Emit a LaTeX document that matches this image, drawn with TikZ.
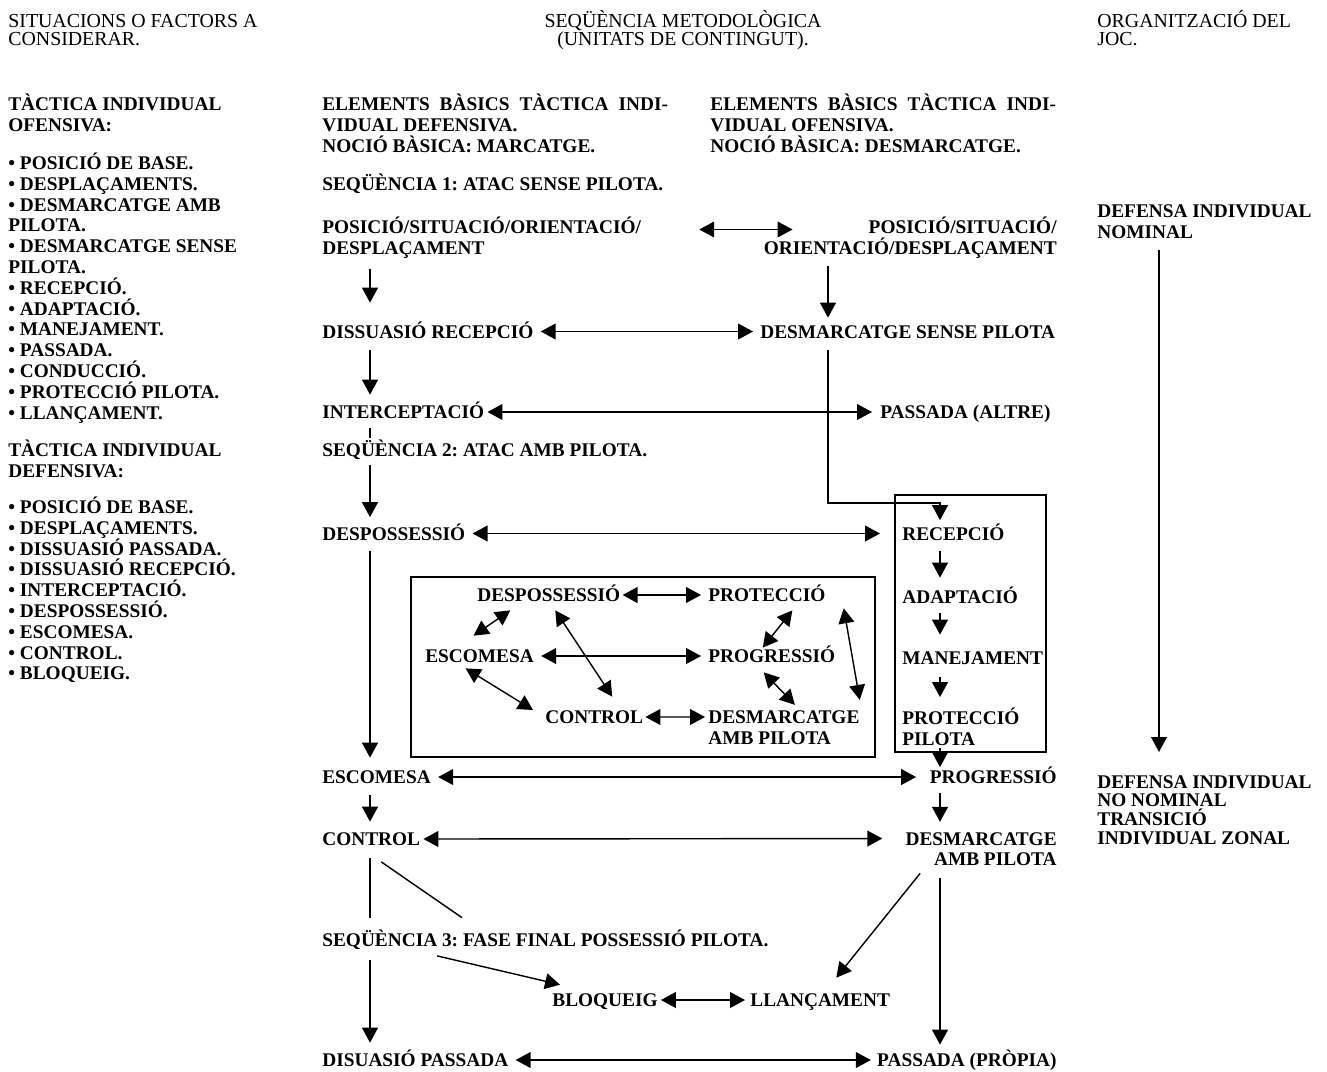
\documentclass[tikz,border=0pt]{standalone}
\usepackage{fontspec}
\setmainfont{Liberation Serif}
\usetikzlibrary{arrows.meta,calc}
\tikzset{>={Triangle[length=8.5pt,width=9pt]}}
\tikzset{
  box/.style = {anchor=base west, inner sep=0pt, text height=0.26cm, text depth=0pt, font=\bfseries},
  boxr/.style = {box, anchor=base east},
  lines/.style = {anchor=base west, inner sep=0pt, align=left, font=\bfseries},
  linesr/.style = {lines, anchor=base east, align=right},
  title/.style = {anchor=base west, inner sep=0pt, align=left, font={\fontsize{11.3}{10.2}\selectfont}},
  link/.style = {thick, <->, shorten <=0.14cm, shorten >=0.14cm},
  flow/.style = {thick, ->}
}
\begin{document}
\frenchspacing
\fontsize{11}{11.84}\selectfont
\begin{tikzpicture}[x=0.02cm, y=-0.02cm]
  \useasboundingbox (0,0) rectangle (1327,1071);
  % column guides
  \coordinate (colL) at (370,0);
  \coordinate (colM) at (828,0);
  \coordinate (colR) at (940,0);
  \coordinate (colO) at (1159,0);
  \coordinate (bend) at (940,503);
  % headings
  \node[title] (sitH) at (8,45.5) {SITUACIONS O FACTORS A\\CONSIDERAR.};
  \node[title, anchor=base, align=center] (seqH) at (683,45.5) {SEQÜÈNCIA METODOLÒGICA\\(UNITATS DE CONTINGUT).};
  \node[title] (orgH) at (1097,45.5) {ORGANITZACIÓ DEL\\JOC.};
  % factors
  \node[lines] (offH) at (8,131.3) {TÀCTICA INDIVIDUAL\\OFENSIVA:};
  \node[lines] (offL) at (8,419.1) {• POSICIÓ DE BASE.\\• DESPLAÇAMENTS.\\• DESMARCATGE AMB\\PILOTA.\\• DESMARCATGE SENSE\\PILOTA.\\• RECEPCIÓ.\\• ADAPTACIÓ.\\• MANEJAMENT.\\• PASSADA.\\• CONDUCCIÓ.\\• PROTECCIÓ PILOTA.\\• LLANÇAMENT.};
  \node[lines] (defH) at (8,477.3) {TÀCTICA INDIVIDUAL\\DEFENSIVA:};
  \node[lines] (defL) at (8,679.9) {• POSICIÓ DE BASE.\\• DESPLAÇAMENTS.\\• DISSUASIÓ PASSADA.\\• DISSUASIÓ RECEPCIÓ.\\• INTERCEPTACIÓ.\\• DESPOSSESSIÓ.\\• ESCOMESA.\\• CONTROL.\\• BLOQUEIG.};
  % sequence
  \node[lines] (elemD) at (322,152.1) {ELEMENTS\hspace{0.2cm}BÀSICS\hspace{0.2cm}TÀCTICA\hspace{0.2cm}INDI-\\VIDUAL DEFENSIVA.\\NOCIÓ BÀSICA: MARCATGE.};
  \node[lines] (elemO) at (710,152.1) {ELEMENTS\hspace{0.2cm}BÀSICS\hspace{0.2cm}TÀCTICA\hspace{0.2cm}INDI-\\VIDUAL OFENSIVA.\\NOCIÓ BÀSICA: DESMARCATGE.};
  \node[box] (seq1) at (322,191) {SEQÜÈNCIA 1: ATAC SENSE PILOTA.};
  \node[lines] (posL) at (322,254.5) {POSICIÓ/SITUACIÓ/ORIENTACIÓ/\\DESPLAÇAMENT};
  \node[linesr] (posR) at (1057,254.5) {POSICIÓ/SITUACIÓ/\\ORIENTACIÓ/DESPLAÇAMENT};
  \node[box] (dissR) at (322,338) {DISSUASIÓ RECEPCIÓ};
  \node[box] (desmS) at (760,338) {DESMARCATGE SENSE PILOTA};
  \node[box] (interc) at (322,418.5) {INTERCEPTACIÓ};
  \node[box] (passA) at (880,418.5) {PASSADA (ALTRE)};
  \node[box] (seq2) at (322,456.5) {SEQÜÈNCIA 2: ATAC AMB PILOTA.};
  \node[box] (despos) at (322,540) {DESPOSSESSIÓ};
  \node[box] (recep) at (902,540) {RECEPCIÓ};
  \node[box] (adapt) at (902,603.5) {ADAPTACIÓ};
  \node[box] (manej) at (902,664.5) {MANEJAMENT};
  \node[lines] (protP) at (902,745.3) {PROTECCIÓ\\PILOTA};
  \node[box] (escom) at (322,783.5) {ESCOMESA};
  \node[boxr] (progr) at (1057,783.5) {PROGRESSIÓ};
  \node[box] (control) at (322,845.5) {CONTROL};
  \node[linesr] (desmA) at (1057,865.8) {DESMARCATGE\\AMB PILOTA};
  \node[box] (seq3) at (322,946.5) {SEQÜÈNCIA 3: FASE FINAL POSSESSIÓ PILOTA.};
  \node[box] (bloq) at (552,1006.5) {BLOQUEIG};
  \node[box] (llanc) at (750,1006.5) {LLANÇAMENT};
  \node[box] (disP) at (322,1066.5) {DISUASIÓ PASSADA};
  \node[boxr] (passP) at (1057,1066.5) {PASSADA (PRÒPIA)};
  % inner frame
  \draw[thick] (411,577) rectangle (875,757);
  \draw[thick] (895,495) rectangle (1046,752);
  \node[box] (desposI) at (477,601.5) {DESPOSSESSIÓ};
  \node[box] (protI) at (708,601.5) {PROTECCIÓ};
  \node[box] (escomI) at (425,662.5) {ESCOMESA};
  \node[box] (progI) at (708,662.5) {PROGRESSIÓ};
  \node[box] (controlI) at (545,723.5) {CONTROL};
  \node[lines] (desmI) at (708,744.3) {DESMARCATGE\\AMB PILOTA};
  % game organisation
  \node[lines] (defNom) at (1097,238.3) {DEFENSA INDIVIDUAL\\NOMINAL};
  \node[lines, font={\fontsize{11}{10.6}\selectfont\bfseries}] (defNoNom) at (1097,844) {DEFENSA INDIVIDUAL\\NO NOMINAL\\TRANSICIÓ\\INDIVIDUAL ZONAL};
  % horizontal links
  \draw[thick,<->] ($(posL.base east)+(58,-25)$) -- ($(posR.base west)+(29,-25)$);
  \draw[link] (dissR.east) -- (desmS.west);
  \draw[link, shorten <=0.06cm, shorten >=0.16cm] (interc.east) -- (passA.west);
  \draw[link, shorten >=0.44cm] (despos.east) -- (recep.west);
  \draw[link, shorten >=0.27cm] (escom.east) -- (progr.west);
  \draw[link, shorten <=0.06cm, shorten >=0.46cm] (control.east) -- ($(desmA.base west)+(0,-27.3)$);
  \draw[link, shorten <=0.06cm, shorten >=0.1cm] (bloq.east) -- (llanc.west);
  \draw[link, shorten >=0.12cm] (disP.east) -- (passP.west);
  % links in the frame
  \draw[link, shorten <=0.04cm] (desposI.east) -- (protI.west);
  \draw[link] (escomI.east) -- (progI.west);
  \draw[link, shorten <=0.04cm, shorten >=0.06cm] (controlI.east) -- ($(desmI.base west)+(0,-27.3)$);
  \draw[thick,<->] ($(escomI.north)+(-6,-13.5)$) -- ($(desposI.south)+(-38.5,8.5)$);
  \draw[thick,<->] ($(escomI.south)+(-14,5.5)$) -- ($(controlI.west)+(-12,-7)$);
  \draw[thick,<->] ($(desposI.south)+(6.5,8.5)$) -- ($(controlI.north)+(18,-13.5)$);
  \draw[thick,<->] ($(protI.south)+(25.5,8.5)$) -- ($(progI.north)+(-9,-1.5)$);
  \draw[thick,<->] ($(progI.south)+(-8,9.5)$) -- ($(desmI.north)+(11,-5.5)$);
  \draw[thick,<->] ($(protI.south east)+(18,6.5)$) -- ($(desmI.north east)+(0,-10.5)$);
  % vertical flows
  \draw[flow, shorten <=0.2cm, shorten >=0.44cm] (posL.south -| colL) -- (dissR.north -| colL);
  \draw[flow, shorten <=0.14cm, shorten >=0.14cm] (posR.south -| colM) -- (desmS.north -| colM);
  \draw[flow, shorten <=0.24cm, shorten >=0.21cm] (dissR.south -| colL) -- (interc.north -| colL);
  \draw[thick, shorten <=0.19cm, shorten >=0.11cm] (interc.south -| colL) -- (seq2.north -| colL);
  \draw[flow, shorten <=0.17cm, shorten >=0.19cm] (seq2.south -| colL) -- (despos.north -| colL);
  \draw[flow, shorten <=0.21cm, shorten >=0.25cm] (despos.south -| colL) -- (escom.north -| colL);
  \draw[flow, shorten <=0.23cm, shorten >=0.21cm] (escom.south -| colL) -- (control.north -| colL);
  \draw[thick, shorten <=0.25cm, shorten >=0.31cm] (control.south -| colL) -- (seq3.north -| colL);
  \draw[flow, shorten <=0.27cm, shorten >=0.21cm] (seq3.south -| colL) -- (disP.north -| colL);
  \draw[flow, shorten <=0.24cm, shorten >=0.13cm] (desmS.south -| colM) |- (bend) -- (recep.north -| colR);
  \draw[flow, shorten <=0.21cm, shorten >=0.25cm] (recep.south -| colR) -- (adapt.north -| colR);
  \draw[flow, shorten <=0.19cm, shorten >=0.33cm] (adapt.south -| colR) -- (manej.north -| colR);
  \draw[flow, shorten <=0.25cm, shorten >=0.21cm] (manej.south -| colR) -- (protP.north -| colR);
  \draw[flow, shorten <=0.04cm, shorten >=0.06cm] (protP.south -| colR) -- (progr.north -| colR);
  \draw[flow, shorten <=0.18cm, shorten >=0.2cm] (progr.south -| colR) -- (desmA.north -| colR);
  \draw[flow, shorten <=0.24cm, shorten >=0.17cm] (desmA.south -| colR) -- (passP.north -| colR);
  \draw[flow] ($(desmA.south)+(-61,7)$) -- ($(llanc.north east)+(-54,-15.5)$);
  \draw[thick] ($(control.south)+(10,16)$) -- ($(seq3.north west)+(140,-15.5)$);
  \draw[flow] ($(seq3.south west)+(115,9)$) -- ($(bloq.north west)+(8,-8.5)$);
  \draw[flow, shorten <=0.23cm, shorten >=0.46cm] (defNom.south -| colO) -- (defNoNom.north -| colO);
\end{tikzpicture}
\end{document}
